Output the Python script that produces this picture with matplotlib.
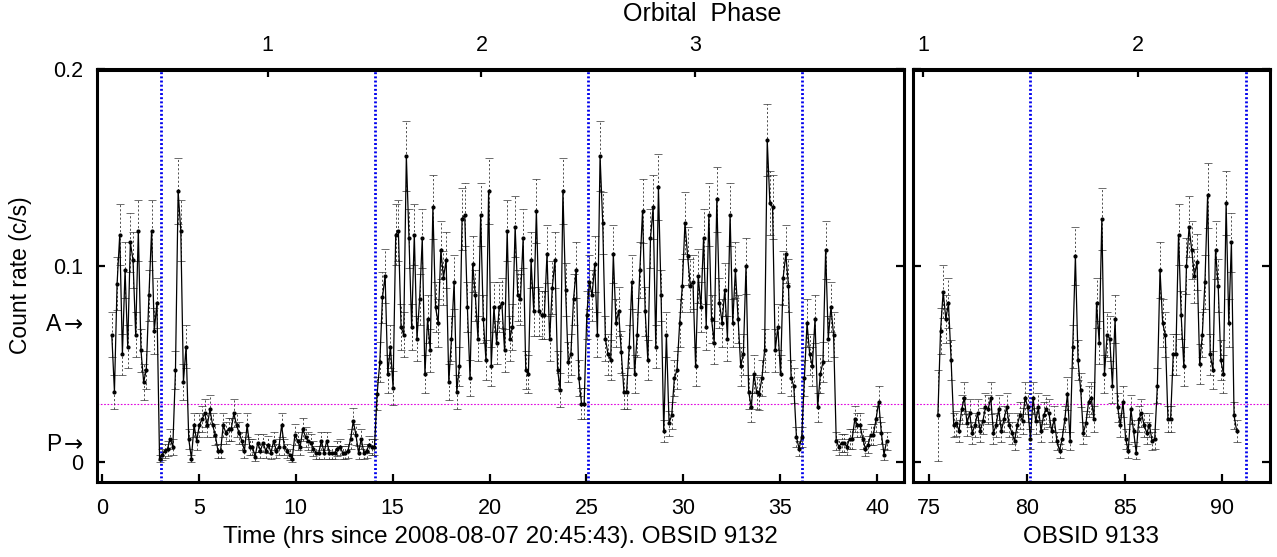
import numpy as np
import matplotlib
matplotlib.use("Agg")
import matplotlib.pyplot as plt
from matplotlib.transforms import blended_transform_factory

plt.rcParams['font.family'] = ['Liberation Sans', 'DejaVu Sans']

# light curve data (count rate in c/s), ~493 s bins
BIN_SEC = 493.0

rate_9132 = [
    0.065, 0.036, 0.091, 0.116, 0.055, 0.098, 0.059, 0.112, 0.103, 0.065,
    0.118, 0.057, 0.041, 0.047, 0.085, 0.118, 0.067, 0.081, 0.002, 0.004,
    0.006, 0.007, 0.012, 0.008, 0.047, 0.138, 0.118, 0.041, 0.059, 0.012,
    0.002, 0.019, 0.011, 0.019, 0.022, 0.025, 0.019, 0.027, 0.019, 0.014,
    0.006, 0.006, 0.019, 0.015, 0.017, 0.017, 0.025, 0.019, 0.015, 0.011,
    0.006, 0.019, 0.008, 0.008, 0.003, 0.010, 0.006, 0.010, 0.006, 0.009,
    0.005, 0.011, 0.006, 0.008, 0.019, 0.008, 0.006, 0.004, 0.002, 0.014,
    0.011, 0.008, 0.017, 0.013, 0.011, 0.010, 0.007, 0.005, 0.005, 0.011,
    0.005, 0.011, 0.005, 0.005, 0.005, 0.007, 0.008, 0.005, 0.005, 0.006,
    0.012, 0.021, 0.014, 0.005, 0.012, 0.005, 0.006, 0.009, 0.008, 0.008,
    0.035, 0.051, 0.084, 0.095,
    # orbit 2
    0.045, 0.059, 0.038, 0.116, 0.118, 0.069, 0.065, 0.156, 0.114, 0.069,
    0.116, 0.063, 0.083, 0.114, 0.045, 0.073, 0.057, 0.130, 0.079, 0.071,
    0.108, 0.094, 0.103, 0.041, 0.063, 0.092, 0.036, 0.049, 0.124, 0.126,
    0.079, 0.043, 0.101, 0.085, 0.063, 0.126, 0.073, 0.052, 0.138, 0.049,
    0.079, 0.061, 0.079, 0.081, 0.057, 0.118, 0.063, 0.069, 0.120, 0.085,
    0.083, 0.114, 0.047, 0.045, 0.103, 0.077, 0.128, 0.077, 0.075, 0.075,
    0.106, 0.063, 0.089, 0.103, 0.047, 0.037, 0.138, 0.088, 0.051, 0.055,
    0.083, 0.098, 0.043, 0.030, 0.030, 0.075, 0.092, 0.085, 0.101, 0.065,
    # orbit 3
    0.156, 0.122, 0.063, 0.055, 0.052, 0.106, 0.071, 0.077, 0.056, 0.036,
    0.036, 0.059, 0.092, 0.045, 0.065, 0.098, 0.128, 0.077, 0.052, 0.114,
    0.130, 0.059, 0.140, 0.085, 0.016, 0.065, 0.020, 0.024, 0.043, 0.047,
    0.071, 0.090, 0.122, 0.105, 0.090, 0.092, 0.049, 0.095, 0.079, 0.114,
    0.069, 0.126, 0.073, 0.061, 0.134, 0.081, 0.071, 0.088, 0.063, 0.126,
    0.071, 0.098, 0.073, 0.049, 0.055, 0.100, 0.036, 0.028, 0.045, 0.036,
    0.035, 0.043, 0.057, 0.164, 0.132, 0.130, 0.057, 0.069, 0.045, 0.094,
    0.106, 0.090, 0.043, 0.039, 0.013, 0.007, 0.013, 0.043, 0.071,
    # after eclipse
    0.055, 0.049, 0.073, 0.028, 0.045, 0.051, 0.108, 0.063, 0.079, 0.065,
    0.011, 0.008, 0.010, 0.010, 0.008, 0.012, 0.012, 0.022, 0.019, 0.019,
    0.012, 0.007, 0.009, 0.014, 0.014, 0.022, 0.031, 0.015, 0.004, 0.011,
]
t_start_9132, t_end_9132 = 0.52, 40.48

rate_9133 = [
    0.024, 0.067, 0.087, 0.073, 0.081, 0.052, 0.019, 0.020, 0.016, 0.027,
    0.033, 0.020, 0.025, 0.015, 0.019, 0.025, 0.016, 0.021, 0.028, 0.027,
    0.033, 0.015, 0.019, 0.027, 0.016, 0.022, 0.028, 0.019, 0.015, 0.011,
    0.019, 0.024, 0.021, 0.033, 0.028, 0.012, 0.033, 0.021, 0.028, 0.016,
    0.024, 0.027, 0.025, 0.016, 0.022, 0.011, 0.006, 0.012, 0.022, 0.035,
    0.011, 0.059, 0.105, 0.052, 0.037, 0.015, 0.020, 0.031, 0.033, 0.022,
    0.081, 0.061, 0.124, 0.045, 0.065, 0.063, 0.039, 0.073, 0.028, 0.019,
    0.031, 0.012, 0.006, 0.027, 0.016, 0.005, 0.022, 0.025, 0.019, 0.015,
    0.019, 0.011, 0.012, 0.039, 0.098, 0.071, 0.065, 0.022, 0.022, 0.055,
    0.055, 0.116, 0.075, 0.049, 0.100, 0.120, 0.108, 0.095, 0.102, 0.050,
    0.065, 0.092, 0.136, 0.055, 0.047, 0.108, 0.090, 0.052, 0.045, 0.132,
    0.071, 0.112, 0.024, 0.016,
]
t_start_9133, t_end_9133 = 75.44, 90.74
first_bin_exposure_9133 = 45.0  # partial first bin

eclipses_9132 = [3.04, 14.07, 25.10, 36.13]
eclipses_9133 = [80.17, 91.22]
phase_pos_9132 = [8.56, 19.58, 30.61]
phase_lab_9132 = ['1', '2', '3']
phase_pos_9133 = [74.7, 85.7]
phase_lab_9133 = ['1', '2']
level_cut = 0.030
level_A = 0.070
level_P = 0.0092

rate_9132 = np.array(rate_9132)
rate_9133 = np.array(rate_9133)
t_9132 = np.linspace(t_start_9132, t_end_9132, len(rate_9132))
t_9133 = np.linspace(t_start_9133, t_end_9133, len(rate_9133))
expo_9132 = np.full(len(rate_9132), BIN_SEC)
expo_9133 = np.full(len(rate_9133), BIN_SEC)
expo_9133[0] = first_bin_exposure_9133
err_9132 = np.sqrt(rate_9132 * expo_9132) / expo_9132
err_9133 = np.sqrt(rate_9133 * expo_9133) / expo_9133

W, H = 1277, 557
fig = plt.figure(figsize=(W / 100, H / 100), dpi=100)
y0, y1 = 481.5, 69.5
axL = fig.add_axes([96.7 / W, 1 - y0 / H, (904.3 - 96.7) / W, (y0 - y1) / H])
axR = fig.add_axes([912.7 / W, 1 - y0 / H, (1269.5 - 912.7) / W, (y0 - y1) / H])


def draw_panel(ax, t, rate, err, eclipses):
    ax.axhline(level_cut, color='#e000e0', lw=0.8, ls=(0, (1.5, 1.5)), zorder=1)
    for e in eclipses:
        ax.axvline(e, color='#0000ee', lw=2.0, ls=(0, (0.7, 0.8)), zorder=2)
    eb = ax.errorbar(t, rate, yerr=err, fmt='none', ecolor='#333333',
                     elinewidth=0.6, capsize=2.6, capthick=0.5, zorder=3)
    eb[2][0].set_linestyle((0, (2.5, 2.5)))
    for cap in eb[1]:
        cap.set_color('#666666')
    ax.plot(t, rate, color='black', lw=0.9, marker='o', ms=2.0, zorder=4)
    ax.set_ylim(-0.0097, 0.2)
    for s in ax.spines.values():
        s.set_linewidth(2.2)
    ax.tick_params(axis='both', direction='in', length=6, width=1.6,
                   labelsize=15.5, pad=12)


draw_panel(axL, t_9132, rate_9132, err_9132, eclipses_9132)
draw_panel(axR, t_9133, rate_9133, err_9133, eclipses_9133)

axL.set_xlim(-0.258, 41.39)
axR.set_xlim(74.15, 92.42)
axL.set_xticks(np.arange(0, 41, 5))
axR.set_xticks([75, 80, 85, 90])

axL.set_yticks([0, 0.1, 0.2], ['0', '0.1', '0.2'])
axL.yaxis.set_ticks_position('both')
axL.tick_params(axis='y', pad=10)
axR.set_yticks([0, 0.1, 0.2])
axR.yaxis.set_ticks_position('both')
axR.tick_params(axis='y', labelleft=False)

axL.set_xlabel('Time (hrs since 2008-08-07 20:45:43). OBSID 9132', fontsize=17.5, labelpad=5)
axR.set_xlabel('OBSID 9133', fontsize=17.5, labelpad=5)
axL.set_ylabel('Count rate (c/s)', fontsize=16.5, labelpad=15)

# orbital phase on top
for ax, pos, lab in [(axL, phase_pos_9132, phase_lab_9132),
                     (axR, phase_pos_9133, phase_lab_9133)]:
    top = ax.secondary_xaxis('top')
    top.set_xticks(pos, lab)
    top.tick_params(direction='in', length=6, width=1.6, labelsize=15.5, pad=10)
    top.spines['top'].set_linewidth(2.2)

fig.text(702 / W, 1 - 14 / H, 'Orbital  Phase', ha='center', va='center', fontsize=18)

# A / P markers with arrows pointing at the axis
tr = blended_transform_factory(axL.transAxes, axL.transData)
for lab, lev in [('A', level_A), ('P', level_P)]:
    axL.text(-0.017, lev, '\u2192', transform=tr, ha='right', va='center',
             fontsize=16.5, family='DejaVu Sans')
    axL.text(-0.044, lev, lab, transform=tr, ha='right', va='center', fontsize=16.5)

fig.savefig('out.png', dpi=100)
